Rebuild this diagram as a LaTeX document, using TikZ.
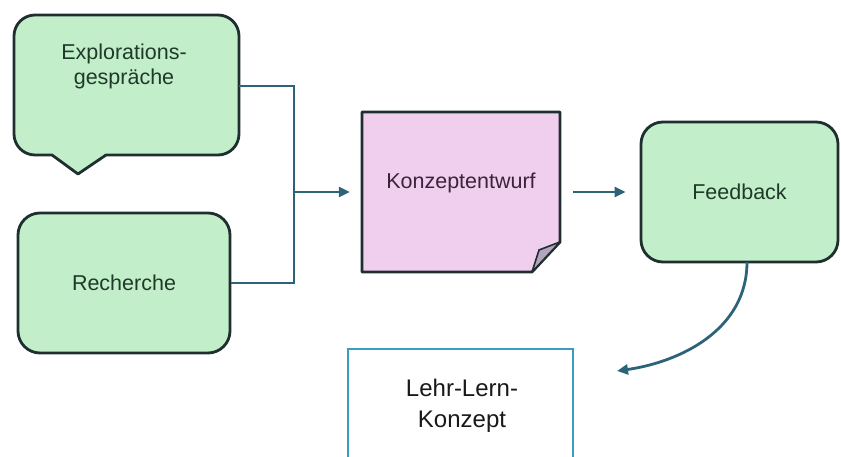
\documentclass[tikz,border=0pt]{standalone}
\usepackage{fontspec}
\setmainfont{Liberation Sans}
\usetikzlibrary{arrows.meta}
\definecolor{boxgreen}{HTML}{C2EEC9}
\definecolor{boxpink}{HTML}{F0CEEE}
\definecolor{edgedark}{HTML}{1F2E2E}
\definecolor{conn}{HTML}{2C6379}
\definecolor{tealedge}{HTML}{3A9CC0}
\definecolor{txtgreen}{HTML}{1F3A29}
\definecolor{txtpink}{HTML}{3B2438}
\definecolor{foldc}{HTML}{B3A5BE}
\tikzset{
  greenbox/.style={draw=edgedark, fill=boxgreen, line width=2.8pt, rounded corners=22pt,
    text=txtgreen, font=\fontsize{21.5}{25}\selectfont, align=center},
  ghost/.style={draw=none, inner sep=0pt},
  lbl/.style={inner sep=0pt, align=center},
  connector/.style={draw=conn, line width=2.8pt},
  arr/.style={connector, -{Triangle[length=11pt,width=10pt]}},
}
\begin{document}
\begin{tikzpicture}[x=1pt,y=-1pt]
\useasboundingbox (0,0) rectangle (841,457);

% Explorations callout
\node[ghost, minimum width=225pt, minimum height=140pt] (expl) at (126.5,86) {};
\draw[draw=edgedark, fill=boxgreen, line width=2.8pt, line join=round]
  (78,174) -- (52,155) [rounded corners=21pt] -- (14,155) -- (14,15) -- (239,15) -- (239,155) [sharp corners] -- (106,155) -- cycle;
\node[lbl, text=txtgreen, font=\fontsize{21.5}{25}\selectfont] (expltext) at (124,66) {Explorations-\\gespräche};

% Recherche
\node[greenbox, minimum width=212pt, minimum height=140pt] (rech) at (124,283) {Recherche};

% Konzeptentwurf sticky note
\node[ghost, minimum width=198pt, minimum height=160pt] (konz) at (461,192) {};
\draw[draw=edgedark, fill=boxpink, line width=2.8pt, line join=round]
  (362,112) -- (560,112) -- (560,242) -- (532,272) -- (362,272) -- cycle;
\draw[draw=edgedark, fill=foldc, line width=1.6pt, line join=round]
  (560,242) .. controls (552,245) .. (539,250) -- (532,272) -- cycle;
\node[lbl, text=txtpink, font=\fontsize{21.5}{25}\selectfont] (konztext) at (461,183) {Konzeptentwurf};

% Feedback
\node[greenbox, minimum width=197pt, minimum height=140pt] (feed) at (739.5,192) {Feedback};

% Lehr-Lern-Konzept
\node[ghost, draw=tealedge, fill=white, line width=2.8pt, minimum width=225pt, minimum height=121pt] (lehr) at (460.5,409.5) {};
\node[lbl, text=black!90, font=\fontsize{24}{31}\selectfont] (lehrtext) at (462,406) {Lehr-Lern-\\Konzept};

% connectors
\coordinate (junc) at (294,192);
\draw[connector] (expl.east) -| (junc);
\draw[connector] (rech.east) -| (junc);
\draw[arr, shorten >=12pt] ([xshift=-1.4pt]junc) -- (konz.west);
\draw[arr, shorten <=13pt, shorten >=14pt] (konz.east) -- (feed.west);
\coordinate (fbstart) at (747,262);
\coordinate (fbend) at (617,371);
\draw[arr] (fbstart) .. controls (747,330) and (680,362) .. (fbend);
\end{tikzpicture}
\end{document}
